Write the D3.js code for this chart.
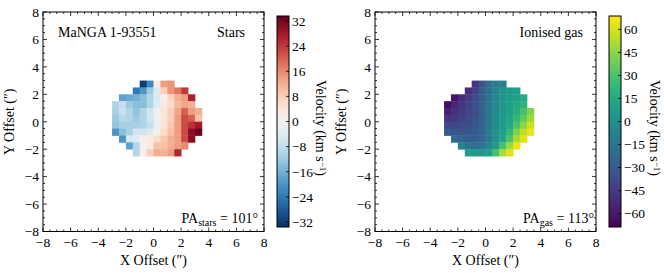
<!DOCTYPE html>
<meta charset="utf-8">
<script src="https://d3js.org/d3.v7.min.js"></script>
<style>
  body { margin: 0; background: #fff; }
  svg text { font-family: 'Liberation Serif', 'DejaVu Serif', serif; fill: #000; }
  .frame { fill: none; stroke: #000; stroke-width: 1; }
  .tk { stroke: #000; stroke-width: 0.8; }
</style>
<body>
<div id="chart"></div>
<script>
// spaxel grid: left edges of columns, top edges of rows (arcsec)
var colLeft = [-3.0, -2.5, -2.0, -1.5, -1.0, -0.5, 0.0, 0.5, 1.0, 1.5, 2.0, 2.5, 3.0];
var rowTop = [3.0, 2.5, 2.0, 1.5, 1.0, 0.5, 0.0, -0.5, -1.0, -1.5, -2.0];
// first occupied column in each row
var rowStart = [4, 3, 1, 0, 0, 0, 0, 0, 1, 2, 3];

// stellar velocities (km/s), one list per row starting at rowStart
var starsVel = [
  [-32, -22, 3, 14, 15],
  [-24, -20, -12, -5, 8, 15, 18, 24],
  [-18, -17, -16, -14, -10, -5, 1, 7, 12, 14, 27],
  [-10, -8, -12, -14, -14, -10, -4, 3, 6, 11, 13, 12],
  [-11, -7, -10, -13, -10, -6, -1, 4, 8, 13, 20, 14, 12],
  [-12, -9, -10, -12, -10, -6, -1, 4, 8, 14, 22, 20, 10],
  [-13, -11, -11, -11, -10, -8, -2, 4, 9, 14, 22, 25, 28],
  [-20, -14, -11, -6, -6, -4, 0, 6, 10, 14, 22, 30, 33],
  [-20, -5, -4, 1, 3, 6, 9, 12, 14, 22, 30],
  [-18, -10, 1, 3, 10, 10, 12, 14, 16],
  [-10, 1, 8, 12, 12, 14, 26]
];

// ionised gas velocities (km/s)
var gasVel = [
  [-48, -33, -20, -12, -10],
  [-52, -42, -30, -18, -8, 2, 5, 8],
  [-62, -52, -45, -38, -28, -16, -5, 2, 6, 10, 14],
  [-64, -54, -48, -42, -36, -26, -15, -4, 3, 8, 14, 20],
  [-56, -50, -46, -40, -36, -26, -14, -3, 4, 10, 18, 28, 42],
  [-48, -46, -42, -38, -34, -26, -14, -2, 5, 12, 22, 35, 48],
  [-40, -40, -38, -36, -32, -24, -14, -2, 6, 15, 30, 45, 58],
  [-30, -32, -34, -32, -30, -24, -12, 0, 8, 22, 42, 55, 64],
  [-22, -26, -28, -28, -24, -14, 0, 12, 30, 52, 62],
  [-8, -14, -20, -16, -6, 6, 28, 48, 64],
  [8, 6, 4, 10, 28, 50, 62]
];

var axisTicks = [-8, -6, -4, -2, 0, 2, 4, 6, 8];
var starsTicks = [-32, -24, -16, -8, 0, 8, 16, 24, 32];
var gasTicks = [-60, -45, -30, -15, 0, 15, 30, 45, 60];
var starsRange = [-33.6, 33.6];
var gasRange = [-68.7, 68.7];

var W = 664, H = 273;
var svg = d3.select("#chart").append("svg")
    .attr("width", W).attr("height", H);

var defs = svg.append("defs");

function panel(ox, grid, color, range, cbTicks, opts) {
    var x = d3.scaleLinear().domain([-8, 8]).range([ox + 43, ox + 264]);
    var y = d3.scaleLinear().domain([-8, 8]).range([231.5, 12]);
    var cs = d3.scaleSequential(color).domain(range);
    var g = svg.append("g");

    // spaxels
    grid.forEach(function(row, r) {
        row.forEach(function(v, i) {
            var c = rowStart[r] + i;
            var x0 = x(colLeft[c]), x1 = x(colLeft[c] + 0.5);
            var y0 = y(rowTop[r]), y1 = y(rowTop[r] - 0.5);
            g.append("rect")
                .attr("x", x0).attr("y", y0)
                .attr("width", x1 - x0 + 0.4).attr("height", y1 - y0 + 0.4)
                .attr("fill", cs(v));
        });
    });

    // minor + major ticks on all four sides, pointing in
    var minor = d3.range(-8, 8.01, 0.5);
    minor.forEach(function(t) {
        var major = Math.abs(t % 2) < 1e-9;
        var len = major ? 4 : 2;
        g.append("line").attr("class", "tk")
            .attr("x1", x(t)).attr("x2", x(t)).attr("y1", y(-8)).attr("y2", y(-8) - len);
        g.append("line").attr("class", "tk")
            .attr("x1", x(t)).attr("x2", x(t)).attr("y1", y(8)).attr("y2", y(8) + len);
        g.append("line").attr("class", "tk")
            .attr("y1", y(t)).attr("y2", y(t)).attr("x1", x(-8)).attr("x2", x(-8) + len);
        g.append("line").attr("class", "tk")
            .attr("y1", y(t)).attr("y2", y(t)).attr("x1", x(8)).attr("x2", x(8) - len);
    });

    g.append("rect").attr("class", "frame")
        .attr("x", x(-8)).attr("y", y(8))
        .attr("width", x(8) - x(-8)).attr("height", y(-8) - y(8));

    var fmt = d3.format("d");
    axisTicks.forEach(function(t) {
        g.append("text").attr("x", x(t)).attr("y", 247)
            .attr("text-anchor", "middle").attr("font-size", 13.5).text(fmt(t));
        g.append("text").attr("x", x(-8) - 4).attr("y", y(t) + 4.8)
            .attr("text-anchor", "end").attr("font-size", 13.5).text(fmt(t));
    });

    g.append("text").attr("x", (x(-8) + x(8)) / 2).attr("y", 265)
        .attr("text-anchor", "middle").attr("font-size", 14).text("X Offset (\u2033)");
    g.append("text")
        .attr("transform", "translate(" + (ox + 14) + "," + ((y(8) + y(-8)) / 2) + ") rotate(-90)")
        .attr("text-anchor", "middle").attr("font-size", 14).text("Y Offset (\u2033)");

    // labels inside plot
    if (opts.name) {
        g.append("text").attr("x", ox + 58).attr("y", 37).attr("font-size", 14).text(opts.name);
    }
    g.append("text").attr("x", opts.titleX).attr("y", 37)
        .attr("text-anchor", "end").attr("font-size", 14).text(opts.title);
    var pa = g.append("text").attr("x", opts.paX).attr("y", 223)
        .attr("text-anchor", "end").attr("font-size", 14);
    pa.append("tspan").text("PA");
    pa.append("tspan").attr("font-size", 10).attr("dy", 3).text(opts.paSub);
    pa.append("tspan").attr("dy", -3).text(" = " + opts.paVal + "\u00b0");

    // colorbar
    var cbx = ox + 277, cbw = 12, cbTop = 16, cbBot = 227;
    var gid = "grad" + ox;
    var grad = defs.append("linearGradient").attr("id", gid)
        .attr("x1", "0").attr("y1", "1").attr("x2", "0").attr("y2", "0");
    d3.range(0, 1.0001, 0.02).forEach(function(f) {
        grad.append("stop").attr("offset", f)
            .attr("stop-color", cs(range[0] + f * (range[1] - range[0])));
    });
    g.append("rect").attr("x", cbx).attr("y", cbTop)
        .attr("width", cbw).attr("height", cbBot - cbTop)
        .attr("fill", "url(#" + gid + ")");
    var cy = d3.scaleLinear().domain(range).range([cbBot, cbTop]);
    cbTicks.forEach(function(t) {
        g.append("line").attr("class", "tk")
            .attr("x1", cbx + cbw).attr("x2", cbx + cbw - 3)
            .attr("y1", cy(t)).attr("y2", cy(t));
        g.append("text").attr("x", cbx + cbw + 3).attr("y", cy(t) + 4.8)
            .attr("font-size", 13.5).text(fmt(t));
    });
    g.append("rect").attr("class", "frame").attr("x", cbx).attr("y", cbTop)
        .attr("width", cbw).attr("height", cbBot - cbTop);

    var vl = g.append("text")
        .attr("transform", "translate(" + (ox + opts.vlX) + ",128) rotate(90)")
        .attr("text-anchor", "middle").attr("font-size", 14);
    vl.append("tspan").text("Velocity (km s");
    vl.append("tspan").attr("font-size", 9).attr("dy", -4).text("\u22121");
    vl.append("tspan").attr("dy", 4).text(")");
}

panel(0, starsVel, function(t) { return d3.interpolateRdBu(1 - t); }, starsRange, starsTicks,
    { name: "MaNGA 1-93551", title: "Stars", titleX: 245, paX: 258, paSub: "stars", paVal: 101, vlX: 316 });
panel(332, gasVel, d3.interpolateViridis, gasRange, gasTicks,
    { name: null, title: "Ionised gas", titleX: 583, paX: 594, paSub: "gas", paVal: 113, vlX: 318 });
</script>
</body>
